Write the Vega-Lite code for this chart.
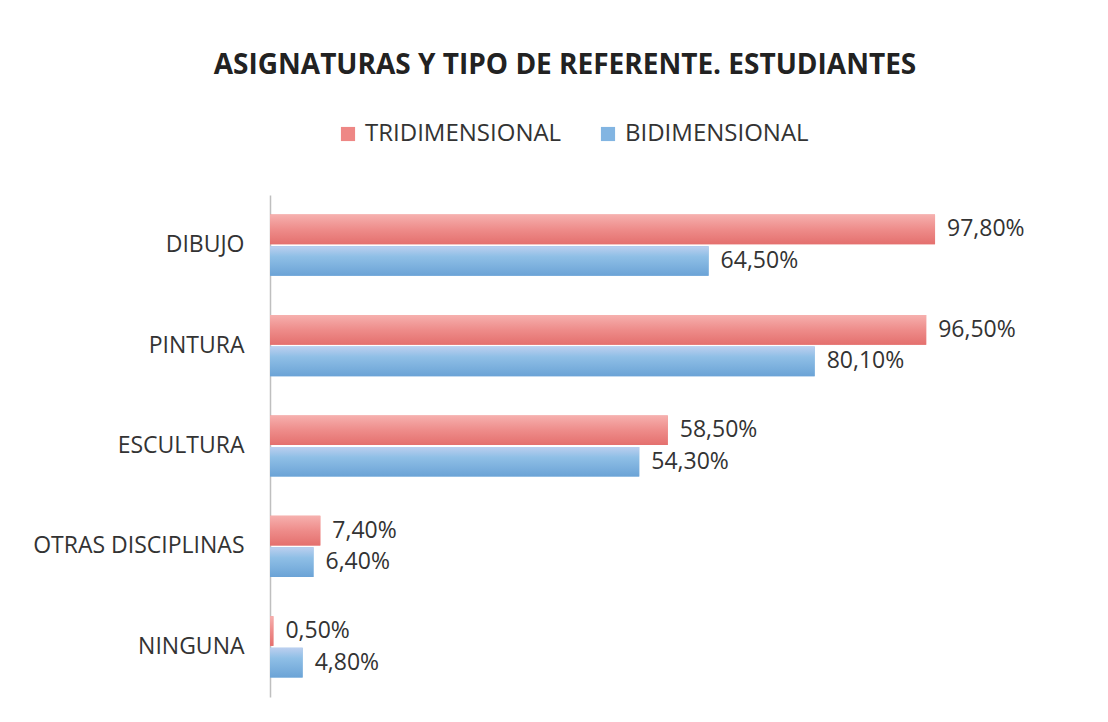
{
  "$schema": "https://vega.github.io/schema/vega-lite/v6.json",
  "width": 680,
  "height": 502,
  "autosize": {"type": "none"},
  "padding": {"left": 270, "top": 195, "right": 158, "bottom": 25},
  "background": "white",
  "config": {
    "view": {"stroke": null},
    "font": "Open Sans",
    "locale": {"number": {"decimal": ",", "thousands": ".", "grouping": [3], "currency": ["", " €"]}}
  },
  "title": {
    "text": "ASIGNATURAS Y TIPO DE REFERENTE. ESTUDIANTES",
    "font": "Open Sans",
    "fontSize": 28,
    "fontWeight": "bold",
    "color": "#222222",
    "anchor": "middle",
    "dx": -45,
    "offset": 42
  },
  "data": {
    "values": [
      {"asignatura": "DIBUJO", "tipo": "TRIDIMENSIONAL", "valor": 0.978},
      {"asignatura": "DIBUJO", "tipo": "BIDIMENSIONAL", "valor": 0.645},
      {"asignatura": "PINTURA", "tipo": "TRIDIMENSIONAL", "valor": 0.965},
      {"asignatura": "PINTURA", "tipo": "BIDIMENSIONAL", "valor": 0.801},
      {"asignatura": "ESCULTURA", "tipo": "TRIDIMENSIONAL", "valor": 0.585},
      {"asignatura": "ESCULTURA", "tipo": "BIDIMENSIONAL", "valor": 0.543},
      {"asignatura": "OTRAS DISCIPLINAS", "tipo": "TRIDIMENSIONAL", "valor": 0.074},
      {"asignatura": "OTRAS DISCIPLINAS", "tipo": "BIDIMENSIONAL", "valor": 0.064},
      {"asignatura": "NINGUNA", "tipo": "TRIDIMENSIONAL", "valor": 0.005},
      {"asignatura": "NINGUNA", "tipo": "BIDIMENSIONAL", "valor": 0.048}
    ]
  },
  "encoding": {
    "y": {
      "field": "asignatura",
      "type": "nominal",
      "sort": ["DIBUJO", "PINTURA", "ESCULTURA", "OTRAS DISCIPLINAS", "NINGUNA"],
      "scale": {"paddingInner": 0.39, "paddingOuter": 0.195},
      "axis": {
        "title": null,
        "ticks": false,
        "domainColor": "#BFBFBF",
        "domainWidth": 1.5,
        "labelFont": "Open Sans",
        "labelFontSize": 23,
        "labelColor": "#333333",
        "labelPadding": 26,
        "labelLimit": 400
      }
    },
    "yOffset": {
      "field": "tipo",
      "type": "nominal",
      "sort": ["TRIDIMENSIONAL", "BIDIMENSIONAL"],
      "scale": {"paddingInner": 0.06}
    },
    "x": {
      "field": "valor",
      "type": "quantitative",
      "scale": {"domain": [0, 1]},
      "axis": null
    }
  },
  "layer": [
    {
      "mark": {"type": "bar"},
      "encoding": {
        "color": {
          "field": "tipo",
          "type": "nominal",
          "sort": ["TRIDIMENSIONAL", "BIDIMENSIONAL"],
          "scale": {"domain": ["TRIDIMENSIONAL", "BIDIMENSIONAL"], "range": ["#EE8785", "#82B5E2"]},
          "legend": {
            "title": null,
            "orient": "none",
            "direction": "horizontal",
            "legendX": 66,
            "legendY": -73,
            "symbolType": "square",
            "symbolSize": 200,
            "symbolStrokeWidth": 0,
            "labelFont": "Open Sans",
            "labelFontSize": 24,
            "labelColor": "#333333",
            "labelOffset": 5,
            "labelLimit": 400,
            "columnPadding": 34
          }
        }
      }
    },
    {
      "mark": {"type": "bar"},
      "encoding": {
        "fill": {
          "condition": {
            "test": "datum.tipo === 'TRIDIMENSIONAL'",
            "value": {"gradient": "linear", "x1": 0, "y1": 0, "x2": 0, "y2": 1, "stops": [{"offset": 0, "color": "#F6B0AE"}, {"offset": 0.5, "color": "#EE8C8A"}, {"offset": 1, "color": "#E4706E"}]}
          },
          "value": {"gradient": "linear", "x1": 0, "y1": 0, "x2": 0, "y2": 1, "stops": [{"offset": 0, "color": "#BCCFEF"}, {"offset": 0.35, "color": "#8FBFE6"}, {"offset": 1, "color": "#6BA3D6"}]}
        }
      }
    },
    {
      "mark": {"type": "text", "align": "left", "baseline": "middle", "dx": 12, "font": "Open Sans", "fontSize": 23, "color": "#333333"},
      "encoding": {
        "text": {"field": "valor", "type": "quantitative", "format": ".2%"}
      }
    }
  ]
}
